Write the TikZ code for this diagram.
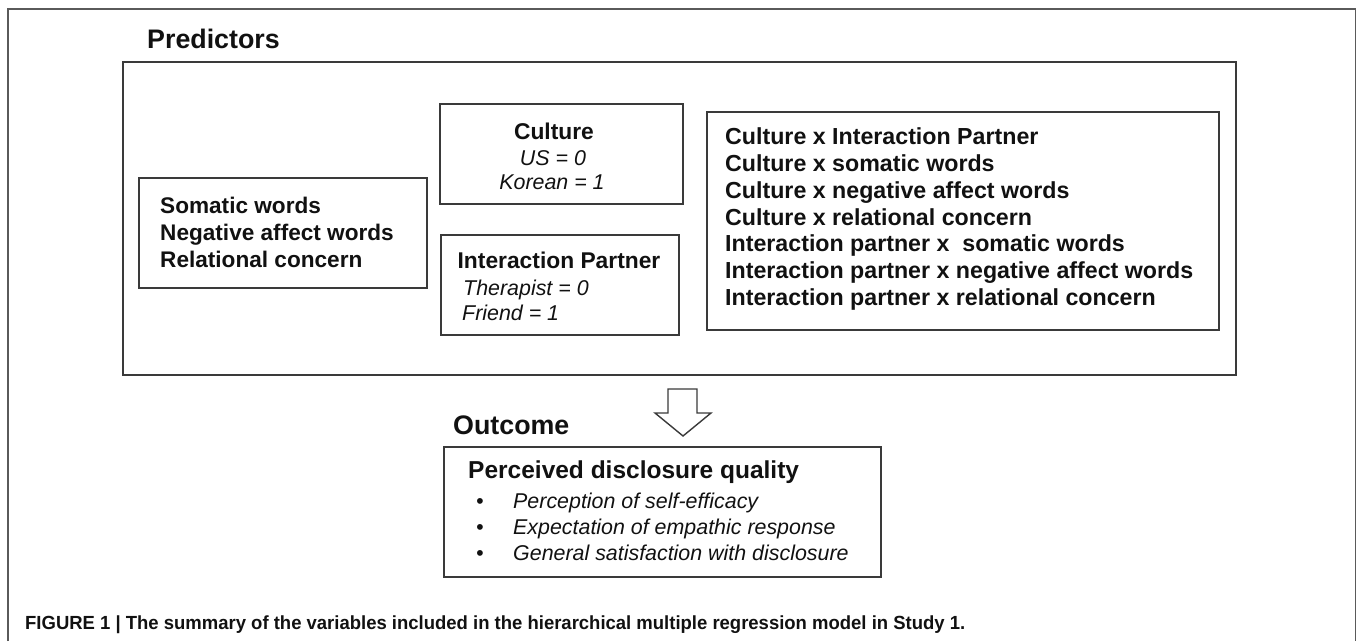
\documentclass[tikz,border=0pt]{standalone}
\usepackage{fontspec}
\usepackage{graphicx}
\setmainfont{Liberation Sans}
\setsansfont{Liberation Sans}
\definecolor{linegray}{HTML}{3A3A3A}
\definecolor{framegray}{HTML}{5A5A5A}
\definecolor{ink}{HTML}{111111}
\begin{document}
\begin{tikzpicture}[x=1pt,y=-1pt,
  box/.style={draw=linegray, line width=1.6pt, fill=none},
  bigtitle/.style={anchor=base west, inner sep=0pt, text=ink, font=\fontsize{26.8pt}{30pt}\selectfont\bfseries},
  bl/.style={anchor=base west, inner sep=0pt, text=ink, font=\fontsize{22.6pt}{26pt}\selectfont\bfseries},
  blx/.style={anchor=base west, inner sep=0pt, text=ink, font=\fontsize{23.2pt}{26pt}\selectfont\bfseries},
  bc/.style={anchor=base, inner sep=0pt, text=ink, font=\fontsize{22.8pt}{26pt}\selectfont\bfseries},
  il/.style={anchor=base west, inner sep=0pt, text=ink, font=\fontsize{21.4pt}{25pt}\selectfont\itshape},
  ic/.style={anchor=base, inner sep=0pt, text=ink, font=\fontsize{21.4pt}{25pt}\selectfont\itshape},
  caption/.style={anchor=base west, inner sep=0pt, text=ink, font=\fontsize{19pt}{21pt}\selectfont\bfseries}]
\useasboundingbox (0,0) rectangle (1357,641);
% outer frame (open at the bottom)
\draw[framegray, line width=1.3pt] (8,641) -- (8,9) -- (1355.5,9) -- (1355.5,641);
% titles
\node[bigtitle] (predlabel) at (147,48.5) {Predictors};
\node[bigtitle] (outlabel) at (453,434.5) {Outcome};
% boxes
\draw[box] (123,62) rectangle (1236,375);
\draw[box] (139,178) rectangle (427,288);
\draw[box] (440,104) rectangle (683,204);
\draw[box] (441,235) rectangle (679,335);
\draw[box] (707,112) rectangle (1219,330);
\draw[box] (444,447) rectangle (881,577);
% somatic box
\node[bl] (s1) at (160,213) {Somatic words};
\node[bl] (s2) at (160,240) {Negative affect words};
\node[bl] (s3) at (160,267) {Relational concern};
% culture box
\node[bc] (c1) at (554,139.5) {Culture};
\node[ic] (c2) at (553,165) {US = 0};
\node[ic] (c3) at (552,189) {Korean = 1};
% interaction partner box
\node[bc] (p1) at (559,268) {Interaction Partner};
\node[il] (p2) at (463,295) {Therapist = 0};
\node[il] (p3) at (462,320) {Friend = 1};
% interactions box
\node[blx] (i1) at (725,144.6) {Culture x Interaction Partner};
\node[blx] (i2) at (725,171.4) {Culture x somatic words};
\node[blx] (i3) at (725,198.2) {Culture x negative affect words};
\node[blx] (i4) at (725,225.0) {Culture x relational concern};
\node[blx] (i5) at (725,251.8) {Interaction partner x\ \ somatic words};
\node[blx] (i6) at (725,278.6) {Interaction partner x negative affect words};
\node[blx] (i7) at (725,305.4) {Interaction partner x relational concern};
% block arrow
\draw[linegray, line width=1.4pt, fill=white, line join=miter]
  (668,389) -- (697,389) -- (697,413) -- (711,413) -- (683,436) -- (655,413) -- (668,413) -- cycle;
% outcome box
\node[bl, font=\fontsize{24.5pt}{28pt}\selectfont\bfseries] (o1) at (468,478.5) {Perceived disclosure quality};
\node[il] (b1) at (476,508) {\textbullet};
\node[il] (o2) at (513,508) {Perception of self-efficacy};
\node[il] (b2) at (476,534) {\textbullet};
\node[il] (o3) at (513,534) {Expectation of empathic response};
\node[il] (b3) at (476,560) {\textbullet};
\node[il] (o4) at (513,560) {General satisfaction with disclosure};
% caption
\node[caption] (cap) at (25,629) {\resizebox{940pt}{\height}{FIGURE 1 | The summary of the variables included in the hierarchical multiple regression model in Study 1.}};
\end{tikzpicture}
\end{document}
